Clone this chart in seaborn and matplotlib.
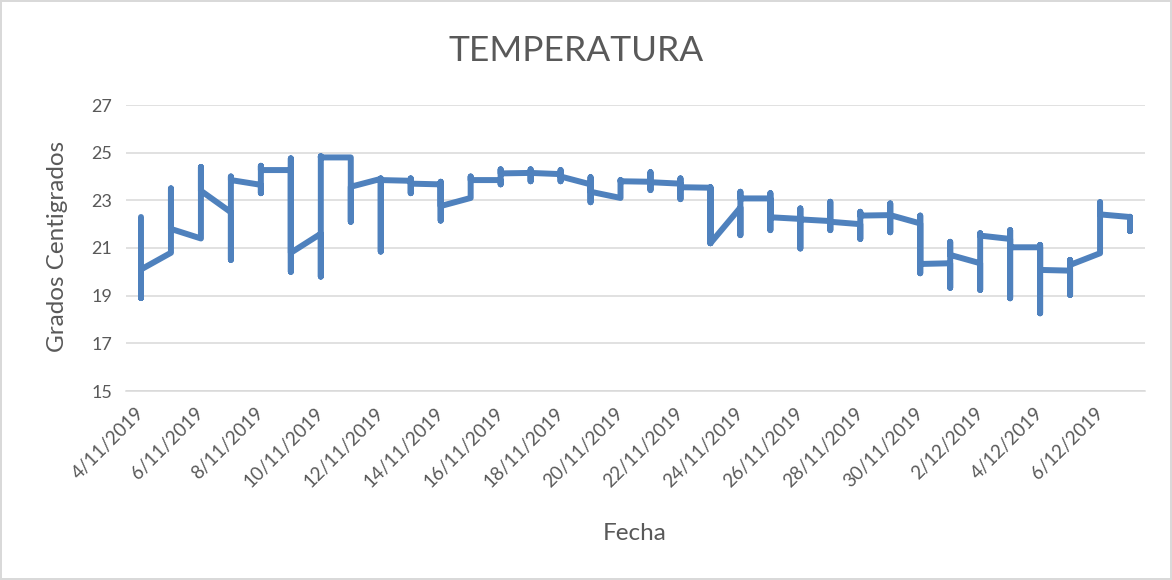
import matplotlib
matplotlib.use("Agg")
import matplotlib.pyplot as plt
import seaborn as sns
import pandas as pd
import numpy as np

# ---- data ----
dias = pd.date_range("2019-11-04", "2019-12-07", freq="D")
entrada = [22.3, 20.8, 21.4, 22.5, 23.65, 24.27, 21.6, 24.8, 23.9, 23.82,
           23.67, 23.1, 23.85, 24.15, 24.1, 23.67, 23.1, 23.78, 23.7, 23.53,
           22.7, 23.08, 22.22, 22.13, 22.0, 22.38, 22.03, 20.36, 20.36, 21.38,
           21.03, 20.05, 20.78, 22.3]
minimo = [18.9, 20.8, 21.4, 20.5, 23.3, 20.0, 19.8, 22.1, 20.85, 23.3,
          22.15, 23.1, 23.67, 23.8, 23.8, 22.92, 23.1, 23.43, 23.05, 21.2,
          21.54, 21.75, 20.98, 21.75, 21.38, 21.66, 19.94, 19.33, 19.24, 18.89,
          18.26, 19.03, 20.78, 21.71]
maximo = [22.3, 23.5, 24.4, 24.0, 24.45, 24.76, 24.85, 24.8, 23.92, 23.92,
          23.78, 24.0, 24.3, 24.3, 24.27, 23.97, 23.85, 24.18, 23.92, 23.55,
          23.36, 23.3, 22.66, 22.94, 22.52, 22.87, 22.36, 21.26, 21.62, 21.75,
          21.13, 20.5, 22.92, 22.31]
salida = [20.1, 21.8, 23.4, 23.85, 24.27, 20.8, 24.8, 23.57, 23.85, 23.7,
          22.76, 23.85, 24.13, 24.15, 24.0, 23.36, 23.8, 23.76, 23.55, 21.2,
          23.08, 22.29, 22.2, 22.1, 22.36, 22.38, 20.33, 20.71, 21.52, 21.03,
          20.08, 20.29, 22.41, 21.71]
ticks_x = pd.date_range("2019-11-04", "2019-12-06", freq="2D")
ticks_y = [15, 17, 19, 21, 23, 25, 27]

# readings in time order: several per day, all plotted on the same date
filas = []
for d, e, lo, hi, s in zip(dias, entrada, minimo, maximo, salida):
    for v in (e, lo, hi, s):
        filas.append({"Fecha": d, "Temperatura": v})
df = pd.DataFrame(filas)

# ---- style ----
sns.set_theme(style="white")
plt.rcParams["font.family"] = ["Lato", "DejaVu Sans"]
gris = "#595959"

fig = plt.figure(figsize=(11.72, 5.80), dpi=100)
fig.patch.set_facecolor("white")
fig.patch.set_edgecolor("#d9d9d9")
fig.patch.set_linewidth(1.5)
ax = fig.add_axes([126 / 1172, 1 - 391 / 580, (1145 - 126) / 1172, (391 - 105) / 580])

sns.lineplot(data=df, x="Fecha", y="Temperatura", sort=False, estimator=None,
             color="#4f81bd", linewidth=4.3, ax=ax,
             solid_capstyle="round", solid_joinstyle="round")

ax.set_ylim(15, 27)
ax.set_yticks(ticks_y)
ax.set_xlim(dias[0] - pd.Timedelta(hours=12), dias[-1] + pd.Timedelta(hours=12))
ax.set_xticks(ticks_x)
ax.set_xticklabels([f"{d.day}/{d.month}/{d.year}" for d in ticks_x],
                   rotation=45, ha="right", va="center", rotation_mode="anchor")

ax.grid(axis="y", color="#d9d9d9", linewidth=1.1)
ax.grid(axis="x", visible=False)
ax.set_axisbelow(True)
for sp in ("left", "top", "right"):
    ax.spines[sp].set_visible(False)
ax.spines["bottom"].set_color("#d9d9d9")
ax.spines["bottom"].set_linewidth(1.1)
ax.tick_params(axis="both", length=0, labelcolor=gris)
ax.tick_params(axis="y", pad=10, labelsize=13)
ax.tick_params(axis="x", pad=14, labelsize=13.5)

ax.set_xlabel("")
ax.set_ylabel("")
fig.text(0.492, 0.912, "TEMPERATURA", ha="center", va="center",
         fontsize=25.5, color=gris)
fig.text(635 / 1172, 1 - 533 / 580, "Fecha", ha="center", va="center",
         fontsize=17.5, color=gris)
fig.text(58 / 1172, 1 - 246 / 580, "Grados Centigrados", ha="center",
         va="center", rotation=90, fontsize=17.5, color=gris)

fig.savefig("out.png", dpi=100, facecolor=fig.get_facecolor(),
            edgecolor=fig.get_edgecolor())
